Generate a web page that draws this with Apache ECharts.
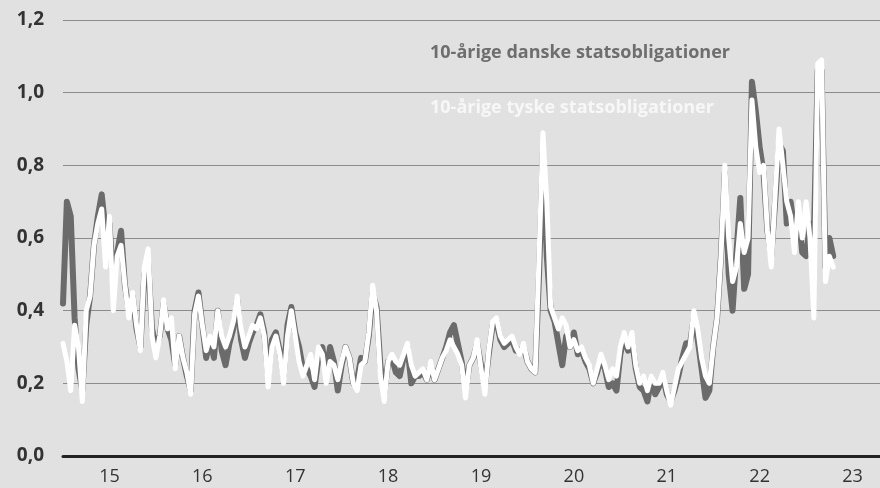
<!DOCTYPE html>
<html>
<head>
<meta charset="utf-8">
<script src="https://cdn.jsdelivr.net/npm/echarts@6/dist/echarts.min.js"></script>
<style>
  html, body { margin: 0; padding: 0; background: #e1e1e1; overflow: hidden; }
  /* plot runs past the right edge of the 880px page, like the original */
  #chart { width: 899px; height: 488px; }
</style>
</head>
<body>
<div id="chart"></div>
<script>
// half-monthly observations, first one at start of 2015
const startYear = 2015;
const stepsPerYear = 24;

const yearLabels = ["15", "16", "17", "18", "19", "20", "21", "22", "23"];
const yTicks = [0, 0.2, 0.4, 0.6, 0.8, 1.0, 1.2];

const danishLabel = "10-årige danske statsobligationer";
const germanLabel = "10-årige tyske statsobligationer";

const danish = [
  0.42, 0.70, 0.66, 0.38, 0.24, 0.18, 0.36, 0.44, 0.58, 0.66, 0.72, 0.62, 0.64, 0.48, 0.56, 0.62, 0.47, 0.40, 0.44, 0.35, 0.30, 0.50, 0.53, 0.35,
  0.30, 0.33, 0.42, 0.35, 0.32, 0.25, 0.33, 0.27, 0.22, 0.18, 0.40, 0.45, 0.36, 0.27, 0.32, 0.27, 0.40, 0.29, 0.25, 0.31, 0.35, 0.43, 0.32, 0.27,
  0.31, 0.34, 0.36, 0.39, 0.34, 0.22, 0.32, 0.34, 0.29, 0.22, 0.36, 0.41, 0.34, 0.30, 0.24, 0.24, 0.22, 0.19, 0.27, 0.30, 0.23, 0.30, 0.26, 0.18,
  0.25, 0.30, 0.27, 0.20, 0.21, 0.27, 0.26, 0.33, 0.45, 0.41, 0.25, 0.17, 0.26, 0.27, 0.23, 0.22, 0.27, 0.30, 0.20, 0.22, 0.22, 0.23, 0.21, 0.25,
  0.21, 0.24, 0.27, 0.30, 0.34, 0.36, 0.31, 0.26, 0.18, 0.25, 0.27, 0.31, 0.25, 0.19, 0.28, 0.36, 0.37, 0.32, 0.30, 0.31, 0.32, 0.29, 0.29, 0.30,
  0.26, 0.24, 0.23, 0.50, 0.84, 0.55, 0.40, 0.37, 0.31, 0.25, 0.33, 0.30, 0.34, 0.28, 0.29, 0.26, 0.24, 0.20, 0.23, 0.27, 0.24, 0.19, 0.20, 0.18,
  0.28, 0.33, 0.29, 0.32, 0.24, 0.19, 0.18, 0.15, 0.21, 0.17, 0.19, 0.22, 0.17, 0.15, 0.18, 0.22, 0.27, 0.31, 0.31, 0.38, 0.32, 0.24, 0.16, 0.18,
  0.30, 0.38, 0.55, 0.78, 0.50, 0.40, 0.56, 0.71, 0.46, 0.50, 1.03, 0.95, 0.85, 0.78, 0.62, 0.55, 0.70, 0.86, 0.84, 0.64, 0.70, 0.62, 0.67, 0.56,
  0.55, 0.64, 0.60, 1.06, 1.06, 0.52, 0.60, 0.55
];

const german = [
  0.31, 0.26, 0.18, 0.36, 0.30, 0.15, 0.40, 0.44, 0.58, 0.64, 0.68, 0.52, 0.66, 0.40, 0.55, 0.58, 0.47, 0.38, 0.45, 0.36, 0.29, 0.52, 0.57, 0.33,
  0.27, 0.33, 0.43, 0.35, 0.38, 0.24, 0.33, 0.27, 0.23, 0.17, 0.39, 0.44, 0.36, 0.29, 0.33, 0.30, 0.40, 0.33, 0.30, 0.33, 0.37, 0.44, 0.35, 0.30,
  0.33, 0.36, 0.35, 0.38, 0.33, 0.19, 0.30, 0.33, 0.28, 0.20, 0.33, 0.40, 0.33, 0.26, 0.22, 0.25, 0.28, 0.21, 0.30, 0.28, 0.20, 0.26, 0.25, 0.21,
  0.26, 0.30, 0.27, 0.20, 0.18, 0.25, 0.26, 0.34, 0.47, 0.40, 0.22, 0.15, 0.26, 0.28, 0.26, 0.25, 0.28, 0.31, 0.25, 0.22, 0.23, 0.24, 0.21, 0.26,
  0.21, 0.24, 0.27, 0.29, 0.32, 0.30, 0.28, 0.25, 0.16, 0.25, 0.27, 0.32, 0.24, 0.17, 0.29, 0.37, 0.38, 0.33, 0.31, 0.32, 0.33, 0.30, 0.28, 0.31,
  0.26, 0.24, 0.23, 0.55, 0.89, 0.70, 0.41, 0.38, 0.35, 0.38, 0.36, 0.30, 0.32, 0.29, 0.30, 0.27, 0.25, 0.20, 0.24, 0.28, 0.25, 0.21, 0.24, 0.22,
  0.30, 0.34, 0.30, 0.34, 0.25, 0.20, 0.22, 0.18, 0.22, 0.20, 0.20, 0.23, 0.18, 0.14, 0.19, 0.24, 0.26, 0.28, 0.30, 0.40, 0.35, 0.27, 0.22, 0.20,
  0.30, 0.38, 0.55, 0.80, 0.60, 0.48, 0.52, 0.64, 0.56, 0.60, 0.98, 0.85, 0.78, 0.80, 0.62, 0.52, 0.72, 0.90, 0.80, 0.70, 0.66, 0.56, 0.70, 0.60,
  0.70, 0.60, 0.38, 1.08, 1.09, 0.48, 0.55, 0.52
];

function toPoints(values) {
  return values.map((v, i) => [startYear + i / stepsPerYear, v]);
}

const chart = echarts.init(document.getElementById("chart"), null, { renderer: "canvas" });

chart.setOption({
  animation: false,
  backgroundColor: "#e1e1e1",
  textStyle: { fontFamily: "Open Sans" },
  grid: { left: 63, right: 0, top: 20, bottom: 32 },
  xAxis: [
    {
      type: "category",
      data: yearLabels,
      boundaryGap: true,
      axisLine: { lineStyle: { color: "#222", width: 3 } },
      axisTick: { inside: true, length: 6, lineStyle: { color: "#222", width: 3 } },
      axisLabel: { color: "#333", fontSize: 18, margin: 12 },
      splitLine: { show: false },
      z: 5
    },
    {
      type: "value",
      min: startYear,
      max: startYear + yearLabels.length,
      show: false
    }
  ],
  yAxis: {
    type: "value",
    min: yTicks[0],
    max: yTicks[yTicks.length - 1],
    interval: 0.2,
    axisLine: { show: false },
    axisTick: { show: false },
    axisLabel: {
      color: "#333",
      fontSize: 19,
      fontWeight: "bold",
      margin: 19,
      formatter: (v) => v.toFixed(1).replace(".", ",")
    },
    splitLine: { lineStyle: { color: "#8c8c8c", width: 1 } }
  },
  graphic: [
    {
      type: "text",
      left: 430,
      top: 44,
      style: { text: danishLabel, fill: "#6e6e6e", font: "bold 18px 'Open Sans'" }
    },
    {
      type: "text",
      left: 430,
      top: 99,
      style: { text: germanLabel, fill: "#f7f7f7", font: "bold 18px 'Open Sans'" }
    }
  ],
  series: [
    {
      name: danishLabel,
      type: "line",
      xAxisIndex: 1,
      data: toPoints(danish),
      showSymbol: false,
      lineStyle: { color: "#6b6b6b", width: 6, cap: "round", join: "round" }
    },
    {
      name: germanLabel,
      type: "line",
      xAxisIndex: 1,
      data: toPoints(german),
      showSymbol: false,
      lineStyle: { color: "#ffffff", width: 5, cap: "round", join: "round" }
    }
  ]
});
</script>
</body>
</html>
